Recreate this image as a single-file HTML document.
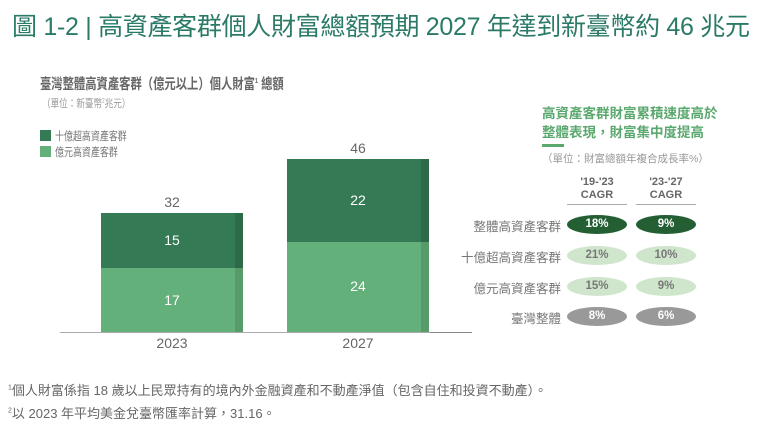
<!DOCTYPE html>
<html><head><meta charset="utf-8"><style>
body{margin:0;width:768px;height:426px;background:#fff;position:relative;overflow:hidden;font-family:"Liberation Sans","Noto Sans CJK TC",sans-serif;}
.a{position:absolute;white-space:nowrap;}
.sx{transform-origin:0 0;transform:scaleX(0.78);}
.title{left:12px;top:7px;font-size:25px;color:#2b7a68;letter-spacing:-0.3px;}
.bar{position:absolute;}
.pill{position:absolute;width:60px;height:19px;border-radius:50%;font-size:11.5px;font-weight:bold;text-align:center;line-height:19px;}
.lbl{position:absolute;right:207px;font-size:12.5px;color:#777;}
</style></head><body>
<div class="a title">圖 1-2 | 高資產客群個人財富總額預期 2027 年達到新臺幣約 46 兆元</div>
<div class="a sx" style="left:40px;top:73px;font-size:14.5px;font-weight:bold;color:#666;">臺灣整體高資產客群（億元以上）個人財富<sup style="font-size:7px">1</sup> 總額</div>
<div class="a sx" style="left:42px;top:95px;font-size:11px;color:#999;">（單位：新臺幣<sup style="font-size:6px">2</sup>兆元）</div>
<div class="a" style="left:40px;top:130px;width:11px;height:11px;background:#347a55"></div>
<div class="a sx" style="left:55px;top:128px;font-size:11.5px;color:#777;">十億超高資產客群</div>
<div class="a" style="left:40px;top:146px;width:11px;height:11px;background:#64b07a"></div>
<div class="a sx" style="left:55px;top:144px;font-size:11.5px;color:#777;">億元高資產客群</div>

<div class="bar" style="left:101px;top:213px;width:142px;height:55px;background:#347a55"></div>
<div class="bar" style="left:235px;top:213px;width:8px;height:55px;background:#2c6a48"></div>
<div class="bar" style="left:101px;top:268px;width:142px;height:64px;background:#64b07a"></div>
<div class="bar" style="left:235px;top:268px;width:8px;height:64px;background:#579b6a"></div>
<div class="bar" style="left:287px;top:159px;width:142px;height:83px;background:#347a55"></div>
<div class="bar" style="left:421px;top:159px;width:8px;height:83px;background:#2c6a48"></div>
<div class="bar" style="left:287px;top:242px;width:142px;height:90px;background:#64b07a"></div>
<div class="bar" style="left:421px;top:242px;width:8px;height:90px;background:#579b6a"></div>
<div class="bar" style="left:60px;top:332px;width:400px;height:1px;background:#aaa"></div>

<div class="a" style="left:101px;width:142px;text-align:center;top:194px;font-size:14px;color:#666">32</div>
<div class="a" style="left:287px;width:142px;text-align:center;top:140px;font-size:14px;color:#666">46</div>
<div class="a" style="left:101px;width:142px;text-align:center;top:232px;font-size:14px;color:#fff">15</div>
<div class="a" style="left:101px;width:142px;text-align:center;top:292px;font-size:14px;color:#fff">17</div>
<div class="a" style="left:287px;width:142px;text-align:center;top:192px;font-size:14px;color:#fff">22</div>
<div class="a" style="left:287px;width:142px;text-align:center;top:278px;font-size:14px;color:#fff">24</div>
<div class="a" style="left:101px;width:142px;text-align:center;top:335px;font-size:14px;color:#666">2023</div>
<div class="a" style="left:287px;width:142px;text-align:center;top:335px;font-size:14px;color:#666">2027</div>

<div class="a" style="left:542px;top:104px;font-size:13.5px;font-weight:bold;color:#5aa86e;line-height:19px;">高資產客群財富累積速度高於<br>整體表現，財富集中度提高</div>
<div class="a" style="left:542px;top:144px;width:22px;height:3px;background:#5aa86e"></div>
<div class="a" style="left:542px;top:151px;font-size:10.5px;color:#999;">（單位：財富總額年複合成長率%）</div>
<div class="a" style="left:567px;width:60px;text-align:center;top:176px;font-size:11px;font-weight:bold;color:#666;line-height:13px;">'19-'23<br>CAGR</div>
<div class="a" style="left:636px;width:60px;text-align:center;top:176px;font-size:11px;font-weight:bold;color:#666;line-height:13px;">'23-'27<br>CAGR</div>
<div class="a" style="left:567px;top:204px;width:60px;height:1px;background:#aaa"></div>
<div class="a" style="left:636px;top:204px;width:60px;height:1px;background:#aaa"></div>

<div class="lbl" style="top:216px">整體高資產客群</div>
<div class="lbl" style="top:247px">十億超高資產客群</div>
<div class="lbl" style="top:278px">億元高資產客群</div>
<div class="lbl" style="top:308px">臺灣整體</div>
<div class="pill" style="left:567px;top:215px;background:#245f34;color:#fff">18%</div>
<div class="pill" style="left:636px;top:215px;background:#245f34;color:#fff">9%</div>
<div class="pill" style="left:567px;top:246px;background:#cfe6cc;color:#777">21%</div>
<div class="pill" style="left:636px;top:246px;background:#cfe6cc;color:#777">10%</div>
<div class="pill" style="left:567px;top:277px;background:#cfe6cc;color:#777">15%</div>
<div class="pill" style="left:636px;top:277px;background:#cfe6cc;color:#777">9%</div>
<div class="pill" style="left:567px;top:307px;background:#999;color:#fff">8%</div>
<div class="pill" style="left:636px;top:307px;background:#999;color:#fff">6%</div>
<div class="a" style="left:430px;top:332px;width:42px;height:1px;background:#888"></div>

<div class="a" style="left:8px;top:380px;font-size:13px;color:#666;"><sup style="font-size:7px">1</sup>個人財富係指 18 歲以上民眾持有的境內外金融資產和不動產淨值（包含自住和投資不動產）。</div>
<div class="a" style="left:8px;top:403px;font-size:13px;color:#666;"><sup style="font-size:7px">2</sup>以 2023 年平均美金兌臺幣匯率計算，31.16。</div>
</body></html>
